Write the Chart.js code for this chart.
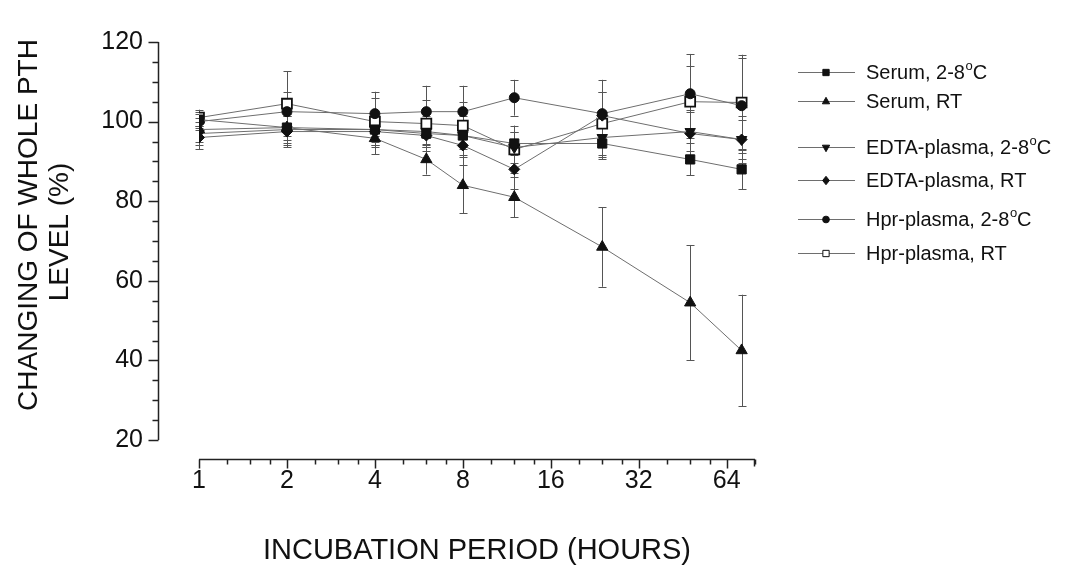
<!DOCTYPE html>
<html>
<head>
<meta charset="utf-8">
<title>Whole PTH stability</title>
<script src="https://cdn.jsdelivr.net/npm/chart.js@4.4.0/dist/chart.umd.min.js"></script>
<style>
  html, body { margin: 0; padding: 0; background: #fff; }
  #wrap { width: 1068px; height: 568px; }
</style>
</head>
<body>
<div id="wrap"><canvas id="pthChart" width="1068" height="568"></canvas></div>
<script>
// Incubation times (hours) and tick values
const hours = [1, 2, 4, 6, 8, 12, 24, 48, 72];
const xTicks = [1, 2, 4, 8, 16, 32, 64];
const yTicks = [20, 40, 60, 80, 100, 120];

// Mean change of whole PTH level (%) per sample type
const serumCold = [100.5, 98.5, 98, 97, 96.5, 94.5, 94.5, 90.5, 88];
const serumRT   = [98, 98.5, 95.8, 90.5, 84, 81, 68.5, 54.5, 42.5];
const edtaCold  = [97, 98, 98, 97.5, 96.5, 93.5, 96, 97.5, 95.5];
const edtaRT    = [96, 97.5, 97.5, 96.5, 94, 88, 101.5, 97, 95.5];
const hprCold   = [100, 102.5, 102, 102.5, 102.5, 106, 102, 107, 104];
const hprRT     = [101, 104.5, 100, 99.5, 99, 93, 99.5, 105, 104.8];

// Error bar half-lengths (SD)
const serumColdSd = [2, 3, 3, 3, 3, 3, 4, 4, 5];
const serumRTSd   = [3, 4, 4, 3.8, 7, 5, 10, 14.5, 14];
const edtaColdSd  = [3, 4, 4, 4, 5, 4, 5, 5, 5];
const edtaRTSd    = [3, 4, 4, 4, 5, 5, 6, 6, 6];
const hprColdSd   = [2, 5, 5.5, 6.5, 6.5, 4.5, 8.5, 10, 12];
const hprRTSd     = [2, 8.2, 6, 6, 6, 6, 8, 9, 12];

const labels = ['Serum, 2-8°C', 'Serum, RT', 'EDTA-plasma, 2-8°C',
                'EDTA-plasma, RT', 'Hpr-plasma, 2-8°C', 'Hpr-plasma, RT'];
const yTitle = ['CHANGING OF WHOLE PTH', 'LEVEL (%)'];

const FONT = "'Liberation Sans', Arial, Helvetica, sans-serif";
const LINE_GREY = '#6e6e6e';
const INK = '#111';

function series(label, values, sd, style) {
    return Object.assign({
        label: label,
        data: hours.map((h, i) => ({ x: h, y: values[i] })),
        sd: sd,
        borderColor: LINE_GREY,
        borderWidth: 1,
        pointBorderColor: INK,
        pointBackgroundColor: INK,
        pointBorderWidth: 1,
        tension: 0
    }, style);
}

const datasets = [
    series(labels[0], serumCold, serumColdSd, { pointStyle: 'rect', pointRadius: 6.5 }),
    series(labels[1], serumRT, serumRTSd, { pointStyle: 'triangle', pointRadius: 6.5 }),
    series(labels[2], edtaCold, edtaColdSd, { pointStyle: 'triangle', pointRotation: 180, pointRadius: 6 }),
    series(labels[3], edtaRT, edtaRTSd, { pointStyle: 'rectRot', pointRadius: 5.5 }),
    series(labels[4], hprCold, hprColdSd, { pointStyle: 'circle', pointRadius: 5 }),
    series(labels[5], hprRT, hprRTSd, { pointStyle: 'rect', pointRadius: 7, pointBackgroundColor: '#fff', pointBorderWidth: 1.8 })
];

// Error bars, drawn under the markers
const errorBars = {
    id: 'errorBars',
    beforeDatasetsDraw(chart) {
        const { ctx, scales: { x, y } } = chart;
        ctx.save();
        ctx.strokeStyle = '#555';
        ctx.lineWidth = 1;
        chart.data.datasets.forEach(ds => {
            ds.data.forEach((p, j) => {
                const px = Math.round(x.getPixelForValue(p.x)) + 0.5;
                const top = y.getPixelForValue(p.y + ds.sd[j]);
                const bot = y.getPixelForValue(p.y - ds.sd[j]);
                ctx.beginPath();
                ctx.moveTo(px, top);
                ctx.lineTo(px, bot);
                ctx.moveTo(px - 4, Math.round(top) + 0.5);
                ctx.lineTo(px + 4, Math.round(top) + 0.5);
                ctx.moveTo(px - 4, Math.round(bot) + 0.5);
                ctx.lineTo(px + 4, Math.round(bot) + 0.5);
                ctx.stroke();
            });
        });
        ctx.restore();
    }
};

// Axis lines set apart from the plot area, with major and minor ticks,
// plus the two-line vertical title
const offsetAxes = {
    id: 'offsetAxes',
    afterDraw(chart) {
        const { ctx, chartArea, scales: { x, y } } = chart;
        const axisX = chartArea.left - 40.5;
        const axisY = chartArea.bottom + 19.5;
        ctx.save();
        ctx.strokeStyle = '#222';
        ctx.lineWidth = 1.5;
        ctx.beginPath();
        ctx.moveTo(axisX, y.getPixelForValue(y.min));
        ctx.lineTo(axisX, y.getPixelForValue(y.max));
        for (let v = y.min; v <= y.max; v += 5) {
            const py = Math.round(y.getPixelForValue(v)) + 0.5;
            const len = v % 20 === 0 ? 10 : 6;
            ctx.moveTo(axisX - len, py);
            ctx.lineTo(axisX, py);
        }
        ctx.moveTo(x.getPixelForValue(x.min), axisY);
        ctx.lineTo(x.getPixelForValue(x.max), axisY);
        xTicks.forEach(t => {
            const px = Math.round(x.getPixelForValue(t)) + 0.5;
            ctx.moveTo(px, axisY);
            ctx.lineTo(px, axisY + 9);
            [1.25, 1.5, 1.75].forEach(f => {
                const m = t * f;
                if (m > x.max) return;
                const mx = Math.round(x.getPixelForValue(m)) + 0.5;
                ctx.moveTo(mx, axisY);
                ctx.lineTo(mx, axisY + 5);
            });
        });
        const ex = Math.round(x.getPixelForValue(x.max)) - 0.5;
        ctx.moveTo(ex, axisY);
        ctx.lineTo(ex, axisY + 7);
        ctx.stroke();

        // vertical title, sitting a little above the axis middle as in the source
        ctx.fillStyle = INK;
        ctx.font = '28px ' + FONT;
        ctx.textAlign = 'center';
        ctx.textBaseline = 'middle';
        [[28, 225], [59, 232]].forEach(([cx, cy], i) => {
            ctx.save();
            ctx.translate(cx, cy);
            ctx.rotate(-Math.PI / 2);
            ctx.fillText(yTitle[i], 0, 1);
            ctx.restore();
        });
        ctx.restore();
    }
};

function drawMarker(ctx, ds, cx, cy, r) {
    const style = ds.pointStyle;
    ctx.beginPath();
    if (style === 'circle') {
        ctx.arc(cx, cy, r * 0.8, 0, Math.PI * 2);
    } else if (style === 'rect') {
        const s = r * 0.75;
        ctx.rect(cx - s, cy - s, 2 * s, 2 * s);
    } else if (style === 'rectRot') {
        ctx.moveTo(cx, cy - r);
        ctx.lineTo(cx + r * 0.8, cy);
        ctx.lineTo(cx, cy + r);
        ctx.lineTo(cx - r * 0.8, cy);
        ctx.closePath();
    } else if (style === 'triangle') {
        const d = ds.pointRotation === 180 ? -1 : 1;
        ctx.moveTo(cx, cy - d * r);
        ctx.lineTo(cx + r * 0.87, cy + d * r * 0.55);
        ctx.lineTo(cx - r * 0.87, cy + d * r * 0.55);
        ctx.closePath();
    }
    ctx.fillStyle = ds.pointBackgroundColor;
    ctx.fill();
    ctx.strokeStyle = INK;
    ctx.lineWidth = 1;
    ctx.stroke();
}

// Legend on the right, "°" shown as a raised small o
const sideLegend = {
    id: 'sideLegend',
    afterDraw(chart) {
        const { ctx } = chart;
        const rows = [72, 101, 147, 180, 219, 253];
        ctx.save();
        ctx.textBaseline = 'middle';
        chart.data.datasets.forEach((ds, i) => {
            const yy = rows[i] + 0.5;
            ctx.strokeStyle = LINE_GREY;
            ctx.lineWidth = 1;
            ctx.beginPath();
            ctx.moveTo(798, yy);
            ctx.lineTo(855, yy);
            ctx.stroke();
            drawMarker(ctx, ds, 826, yy, 4.2);

            ctx.fillStyle = INK;
            const parts = ds.label.split('°');
            let tx = 866;
            ctx.font = '20px ' + FONT;
            ctx.fillText(parts[0], tx, yy + 1);
            if (parts.length > 1) {
                tx += ctx.measureText(parts[0]).width;
                ctx.font = '13px ' + FONT;
                ctx.fillText('o', tx + 0.5, yy - 6);
                tx += ctx.measureText('o').width + 0.5;
                ctx.font = '20px ' + FONT;
                ctx.fillText(parts[1], tx, yy + 1);
            }
        });
        ctx.restore();
    }
};

new Chart(document.getElementById('pthChart'), {
    type: 'line',
    data: { datasets: datasets },
    plugins: [errorBars, offsetAxes, sideLegend],
    options: {
        responsive: false,
        animation: false,
        layout: { padding: { left: 0, right: 313, top: 42, bottom: 0 } },
        plugins: { legend: { display: false }, tooltip: { enabled: false } },
        scales: {
            x: {
                type: 'logarithmic',
                min: 1,
                max: 80,
                afterBuildTicks: scale => { scale.ticks = xTicks.map(v => ({ value: v })); },
                afterFit: scale => {
                    scale.height = 128;
                    scale.paddingLeft = 0;
                    scale.paddingRight = 0;
                },
                grid: { display: false, drawTicks: false },
                border: { display: false },
                ticks: {
                    autoSkip: false,
                    maxRotation: 0,
                    padding: 26,
                    color: INK,
                    font: { family: FONT, size: 25 },
                    callback: v => String(v)
                },
                title: {
                    display: true,
                    text: 'INCUBATION PERIOD (HOURS)',
                    color: INK,
                    font: { family: FONT, size: 29, lineHeight: 1.2 },
                    padding: { top: 0, bottom: 0 }
                }
            },
            y: {
                min: 20,
                max: 120,
                afterBuildTicks: scale => { scale.ticks = yTicks.map(v => ({ value: v })); },
                afterFit: scale => {
                    scale.width = 199;
                    scale.paddingTop = 0;
                    scale.paddingBottom = 0;
                },
                grid: { display: false, drawTicks: false },
                border: { display: false },
                ticks: {
                    padding: 56,
                    color: INK,
                    font: { family: FONT, size: 25 }
                },
                title: { display: false }
            }
        }
    }
});
</script>
</body>
</html>
